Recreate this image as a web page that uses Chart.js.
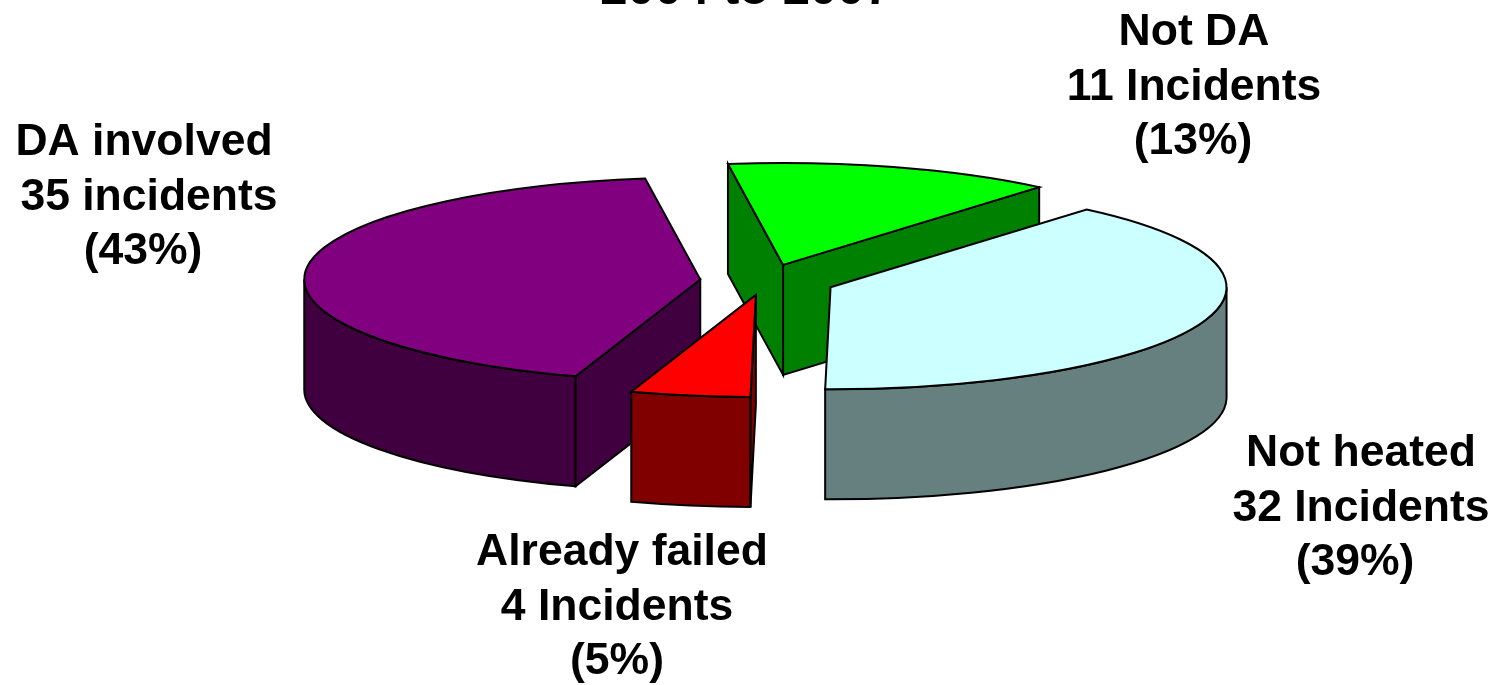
<!DOCTYPE html>
<html>
<head>
<meta charset="utf-8">
<title>Incidents 2004 to 2007</title>
<script src="https://cdn.jsdelivr.net/npm/chart.js@4"></script>
<style>
    html, body { margin: 0; padding: 0; background: #fff; overflow: hidden; }
    canvas { display: block; }
</style>
</head>
<body>
<canvas id="pie" width="1499" height="685"></canvas>
<script>
// Data
const titleText = '2004 to 2007';
const categories = ['Not DA', 'Not heated', 'Already failed', 'DA involved'];
const incidents = [11, 32, 4, 35];
const countLabels = ['11 Incidents', '32 Incidents', '4 Incidents', '35 incidents'];
const percentLabels = ['(13%)', '(39%)', '(5%)', '(43%)'];

// Colours: lit top face and darker side wall
const topColors = ['#00ff00', '#ccffff', '#ff0000', '#800080'];
const wallColors = ['#008000', '#668080', '#800000', '#400040'];

// Pie shape
const radius = 396;
const tilt = 0.2576;   // vertical squash of the pie's top face
const depth = 110;     // wall height
const explode = [65, 70, 55, 65];
const startRotation = -8;

// Centre x of each text line and baseline of the first line, per block
const labelPos = [
    { x: [1194, 1194, 1193], y: 45 },
    { x: [1361, 1361, 1355], y: 466 },
    { x: [622, 617, 617], y: 565 },
    { x: [144, 149, 143], y: 155 }
];
const lineGap = 54.7;

function facePath(ctx, s) {
    ctx.beginPath();
    ctx.moveTo(s.x, s.y);
    ctx.ellipse(s.x, s.y, s.r, s.r * tilt, 0, s.start, s.end);
    ctx.closePath();
}

function drawWall(ctx, s) {
    const from = Math.max(s.start, 0);
    const to = Math.min(s.end, Math.PI);
    ctx.fillStyle = s.wall;

    // curved outer wall, only the part that faces the front
    if (to > from) {
        ctx.beginPath();
        ctx.ellipse(s.x, s.y, s.r, s.r * tilt, 0, from, to);
        ctx.ellipse(s.x, s.y + depth, s.r, s.r * tilt, 0, to, from, true);
        ctx.closePath();
        ctx.fill();
        ctx.stroke();
    }

    // flat cut faces, drawn when the edge runs towards the viewer
    [s.start, s.end].forEach((angle, i) => {
        const ex = s.x + Math.cos(angle) * s.r;
        const ey = s.y + Math.sin(angle) * s.r * tilt;
        if (i === 0 ? ex < s.x : ex > s.x) {
            ctx.beginPath();
            ctx.moveTo(s.x, s.y);
            ctx.lineTo(ex, ey);
            ctx.lineTo(ex, ey + depth);
            ctx.lineTo(s.x, s.y + depth);
            ctx.closePath();
            ctx.fill();
            ctx.stroke();
        }
    });
}

// Extruded pie, built from the arc elements the doughnut controller laid out
const pie3d = {
    id: 'pie3d',
    beforeDatasetsDraw(chart) {
        const ctx = chart.ctx;
        const slices = chart.getDatasetMeta(0).data.map((arc, i) => {
            const mid = (arc.startAngle + arc.endAngle) / 2;
            return {
                start: arc.startAngle,
                end: arc.endAngle,
                r: arc.outerRadius,
                x: arc.x + Math.cos(mid) * arc.options.offset,
                y: arc.y + Math.sin(mid) * arc.options.offset * tilt,
                top: topColors[i],
                wall: wallColors[i]
            };
        });

        ctx.save();
        ctx.strokeStyle = '#000';
        ctx.lineWidth = 2;
        ctx.lineJoin = 'miter';

        // back to front
        slices.sort((a, b) => a.y - b.y).forEach(s => {
            drawWall(ctx, s);
            facePath(ctx, s);
            ctx.fillStyle = s.top;
            ctx.fill();
            ctx.stroke();
        });
        ctx.restore();
        return false;
    },
    afterDraw(chart) {
        const ctx = chart.ctx;
        ctx.save();
        ctx.fillStyle = '#000';
        ctx.textAlign = 'center';
        ctx.textBaseline = 'alphabetic';

        ctx.font = 'bold 49px "Liberation Sans"';
        ctx.fillText(titleText, 746, 4);

        ctx.font = 'bold 44.5px "Liberation Sans"';
        categories.forEach((name, i) => {
            const pos = labelPos[i];
            [name, countLabels[i], percentLabels[i]].forEach((line, n) => {
                ctx.fillText(line, pos.x[n], pos.y + n * lineGap);
            });
        });
        ctx.restore();
    }
};

new Chart(document.getElementById('pie'), {
    type: 'pie',
    data: {
        labels: categories,
        datasets: [{
            data: incidents,
            backgroundColor: topColors,
            offset: explode
        }]
    },
    options: {
        responsive: false,
        animation: false,
        rotation: startRotation,
        radius: radius,
        // moves the chart area centre to where the pie sits
        layout: { padding: { left: 31, bottom: 123 } },
        plugins: { legend: { display: false }, tooltip: { enabled: false } }
    },
    plugins: [pie3d]
});
</script>
</body>
</html>
